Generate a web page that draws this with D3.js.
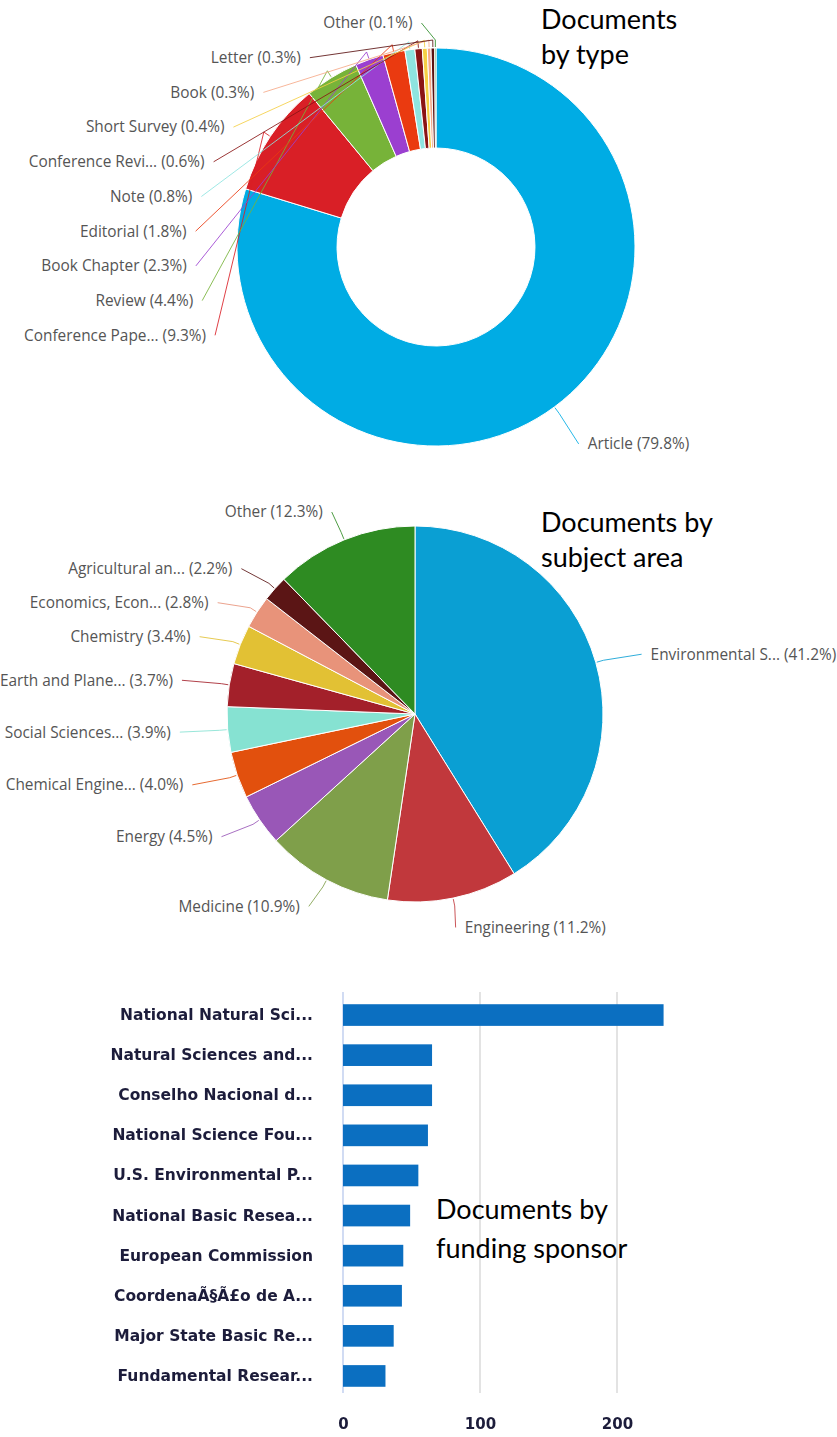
<!DOCTYPE html>
<html>
<head>
<meta charset="utf-8">
<script src="https://cdn.jsdelivr.net/npm/d3@7"></script>
<style>
  html, body { margin: 0; padding: 0; background: #fff; }
  svg { display: block; }
</style>
</head>
<body>
<svg id="chart" width="837" height="1437"></svg>
<script>
// ---- Documents by type (share of documents, %) ----
const typeLabels = ["Article", "Conference Pape...", "Review", "Book Chapter", "Editorial", "Note",
                    "Conference Revi...", "Short Survey", "Book", "Letter", "Other"];
const typeShares = [79.8, 9.3, 4.4, 2.3, 1.8, 0.8, 0.6, 0.4, 0.3, 0.3, 0.1];
const typeColors = ["#00ace4", "#d91f26", "#77b339", "#9b3fd0", "#ea3a10", "#8ee4e0",
                    "#8a1414", "#f5cf45", "#f6a988", "#5a1212", "#2d8c28"];

// ---- Documents by subject area (share of documents, %) ----
const subjectLabels = ["Environmental S...", "Engineering", "Medicine", "Energy", "Chemical Engine...",
                       "Social Sciences...", "Earth and Plane...", "Chemistry", "Economics, Econ...",
                       "Agricultural an...", "Other"];
const subjectShares = [41.2, 11.2, 10.9, 4.5, 4.0, 3.9, 3.7, 3.4, 2.8, 2.2, 12.3];
const subjectColors = ["#0a9fd3", "#c1383c", "#7f9f4a", "#9957b7", "#e2500d", "#86e2d2",
                       "#a3202a", "#e2c134", "#e8937a", "#5b1515", "#2e8b22"];

// ---- Documents by funding sponsor (document counts) ----
const sponsorLabels = ["National Natural Sci...", "Natural Sciences and...", "Conselho Nacional d...",
                       "National Science Fou...", "U.S. Environmental P...", "National Basic Resea...",
                       "European Commission", "CoordenaÃ§Ã£o de A...", "Major State Basic Re...",
                       "Fundamental Resear..."];
const sponsorCounts = [234, 65, 65, 62, 55, 49, 44, 43, 37, 31];
const sponsorTicks = [0, 100, 200];

const svg = d3.select("#chart");
const labelFont = "'Open Sans', Lato, sans-serif";

// soft edge used on the sponsor chart lettering
svg.append("defs").append("filter")
  .attr("id", "soft")
  .append("feGaussianBlur")
  .attr("stdDeviation", 0.45);

// Pie / donut with outside labels joined to their slices by thin connectors.
// Labels start on the slice bisector (radius placeR); labels that had to be
// pushed apart are slid along an ellipse (labelRx, labelRy) around the centre.
function drawPie(cfg) {
  const data = cfg.labels.map((name, i) => ({ name, value: cfg.values[i], color: cfg.colors[i] }));
  const arcs = d3.pie().sort(null).value(d => d.value)(data);
  const arc = d3.arc().innerRadius(cfg.inner).outerRadius(cfg.outer);
  const g = svg.append("g");

  g.append("g")
    .attr("transform", `translate(${cfg.cx},${cfg.cy})`)
    .selectAll("path")
    .data(arcs)
    .join("path")
    .attr("d", arc)
    .attr("fill", d => d.data.color)
    .attr("stroke", "#fff")
    .attr("stroke-width", 1);

  arcs.forEach(a => {
    a.mid = (a.startAngle + a.endAngle) / 2;
    a.left = a.mid > Math.PI;
    a.natY = cfg.cy - cfg.placeR * Math.cos(a.mid);
    a.ly = a.natY;
  });
  const leftSide = arcs.filter(a => a.left).sort((p, q) => q.mid - p.mid);
  const rightSide = arcs.filter(a => !a.left).sort((p, q) => p.mid - q.mid);
  [leftSide, rightSide].forEach(side => {
    let prev = -Infinity;
    side.forEach(a => {
      a.ly = Math.max(a.ly, prev + cfg.spacing, cfg.top);
      prev = a.ly;
    });
  });
  arcs.forEach(a => {
    const moved = Math.abs(a.ly - a.natY) > 0.5;
    let off;
    if (moved) {
      const t = (a.ly - cfg.cy) / cfg.labelRy;
      off = cfg.labelRx * Math.sqrt(Math.max(0, 1 - t * t));
    } else {
      off = Math.abs(cfg.xR * Math.sin(a.mid));
    }
    a.lx = a.left ? cfg.cx - off : cfg.cx + off;
  });

  // connectors
  g.append("g")
    .selectAll("path")
    .data(arcs)
    .join("path")
    .attr("fill", "none")
    .attr("stroke", d => d.data.color)
    .attr("stroke-width", 1)
    .attr("stroke-opacity", 0.85)
    .attr("d", d => {
      const sx = cfg.cx + Math.sin(d.mid) * (cfg.outer + 1);
      const sy = cfg.cy - Math.cos(d.mid) * (cfg.outer + 1);
      const ex = cfg.cx + Math.sin(d.mid) * (cfg.outer + 8);
      const ey = cfg.cy - Math.cos(d.mid) * (cfg.outer + 8);
      const tx = d.lx + (d.left ? 9 : -9);
      return `M${sx},${sy}L${ex},${ey}L${tx},${d.ly}`;
    });

  // labels
  g.append("g")
    .selectAll("text")
    .data(arcs)
    .join("text")
    .attr("x", d => d.lx)
    .attr("y", d => d.ly)
    .attr("dy", "0.35em")
    .attr("text-anchor", d => d.left ? "end" : "start")
    .attr("font-family", labelFont)
    .attr("font-size", 15.4)
    .attr("fill", "#555")
    .text(d => `${d.data.name} (${d.data.value.toFixed(1)}%)`);
}

drawPie({
  labels: typeLabels, values: typeShares, colors: typeColors,
  cx: 436, cy: 247, outer: 199, inner: 99,
  placeR: 245, xR: 255, labelRx: 250, labelRy: 225, spacing: 34.7, top: 23
});

drawPie({
  labels: subjectLabels, values: subjectShares, colors: subjectColors,
  cx: 415, cy: 714, outer: 188, inner: 0,
  placeR: 218, xR: 245, labelRx: 240, labelRy: 218, spacing: 34, top: 505
});

// ---- horizontal bar chart ----
const x = d3.scaleLinear().domain([0, 250]).range([343, 685.5]);
const y = d3.scaleBand().domain(sponsorLabels).range([995, 1396])
  .paddingInner(0.46).paddingOuter(0.23);

const bars = svg.append("g");
bars.append("g")
  .selectAll("line")
  .data(sponsorTicks)
  .join("line")
  .attr("x1", d => x(d)).attr("x2", d => x(d))
  .attr("y1", 992).attr("y2", 1393)
  .attr("stroke", d => d === 0 ? "#c6d3f0" : "#dcdcdc")
  .attr("stroke-width", 1.6);

bars.append("g")
  .selectAll("rect")
  .data(sponsorCounts)
  .join("rect")
  .attr("x", x(0))
  .attr("y", (d, i) => y(sponsorLabels[i]))
  .attr("width", d => x(d) - x(0))
  .attr("height", y.bandwidth())
  .attr("fill", "#0b6fc1");

const yAxis = bars.append("g")
  .attr("transform", "translate(320,0)")
  .attr("filter", "url(#soft)")
  .call(d3.axisLeft(y).tickSize(0).tickPadding(7));
yAxis.select(".domain").remove();
yAxis.selectAll("text")
  .attr("font-family", "'DejaVu Sans', Verdana, sans-serif")
  .attr("font-weight", "bold")
  .attr("font-size", 15.5)
  .attr("fill", "#1d1d3a");

const xAxis = bars.append("g")
  .attr("transform", "translate(0,1418)")
  .attr("filter", "url(#soft)")
  .call(d3.axisBottom(x).tickValues(sponsorTicks).tickSize(0).tickPadding(0));
xAxis.select(".domain").remove();
xAxis.selectAll("text")
  .attr("font-family", "'DejaVu Sans', Verdana, sans-serif")
  .attr("font-weight", "bold")
  .attr("font-size", 15)
  .attr("fill", "#1d1d3a");

// ---- section titles ----
const titles = [
  { x: 541, y: 29, text: "Documents" },
  { x: 541, y: 64, text: "by type" },
  { x: 541, y: 532, text: "Documents by" },
  { x: 541, y: 567, text: "subject area" },
  { x: 436, y: 1219, text: "Documents by" },
  { x: 436, y: 1258, text: "funding sponsor" }
];
svg.append("g")
  .selectAll("text")
  .data(titles)
  .join("text")
  .attr("x", d => d.x)
  .attr("y", d => d.y)
  .attr("font-family", "Lato, 'Open Sans', sans-serif")
  .attr("font-size", 27)
  .attr("fill", "#000")
  .text(d => d.text);
</script>
</body>
</html>
